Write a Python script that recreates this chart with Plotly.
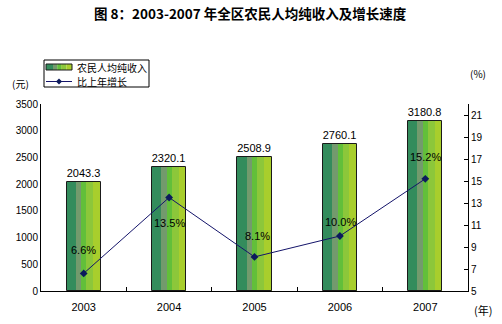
import plotly.graph_objects as go

years = ["2003", "2004", "2005", "2006", "2007"]
income = [2043.3, 2320.1, 2508.9, 2760.1, 3180.8]
growth = [6.6, 13.5, 8.1, 10.0, 15.2]
growth_labels = ["6.6%", "13.5%", "8.1%", "10.0%", "15.2%"]
label_shift = [23, -25, 21, 14, 22]
label_xshift = [0, 0, 3, 1, 0]

W, H = 502, 324
L, R, T, B = 41, 468, 104, 291

CJK = "Noto Sans CJK SC"
LAT = "Liberation Sans, Arial, sans-serif"

BW = 0.40
stripes = [(0.00, 0.27, "#338c5c"), (0.27, 0.43, "#739a6d"), (0.43, 0.58, "#62bf3a"),
           (0.58, 0.78, "#8cc73a"), (0.78, 1.00, "#a8ce2c")]

fig = go.Figure()
for s, e, c in stripes:
    fig.add_trace(go.Bar(x=years, y=income, width=(e - s) * BW, offset=-BW / 2 + s * BW,
                         marker=dict(color=c, line=dict(width=0)), showlegend=False,
                         hoverinfo="skip"))
fig.add_trace(go.Bar(x=years, y=income, width=BW, offset=-BW / 2,
                     marker=dict(color="rgba(0,0,0,0)", line=dict(color="#1a1a1a", width=1)),
                     text=[f"{v:.1f}" for v in income], textposition="outside",
                     textfont=dict(family=LAT, size=11, color="#000"),
                     cliponaxis=False, showlegend=False))
fig.add_trace(go.Scatter(x=years, y=growth, yaxis="y2", mode="lines+markers",
                         line=dict(color="#14146a", width=1),
                         marker=dict(symbol="diamond", size=6, color="#0c1a5c"),
                         showlegend=False))

for i, (y, t, sh, xs) in enumerate(zip(growth, growth_labels, label_shift, label_xshift)):
    fig.add_annotation(xref="x", yref="y2", x=i, y=y, text=t, showarrow=False,
                       yshift=sh, xshift=xs, xanchor="center", yanchor="middle",
                       font=dict(family=LAT, size=11, color="#000"))

def px(xp):
    return (xp - L) / (R - L)

def py(yp):
    return (B - yp) / (B - T)

shapes = []
shapes.append(dict(type="rect", xref="paper", yref="paper", x0=px(44), x1=px(149), y0=py(60), y1=py(87),
                   line=dict(color="#000", width=1), fillcolor="white"))
sx0, sx1 = 46, 72
for s, e, c in stripes:
    shapes.append(dict(type="rect", xref="paper", yref="paper", x0=px(sx0 + s * (sx1 - sx0)),
                       x1=px(sx0 + e * (sx1 - sx0)), y0=py(64), y1=py(70),
                       line=dict(width=0), fillcolor=c))
shapes.append(dict(type="rect", xref="paper", yref="paper", x0=px(sx0), x1=px(sx1), y0=py(64), y1=py(70),
                   line=dict(color="#1a1a1a", width=1)))
shapes.append(dict(type="line", xref="paper", yref="paper", x0=px(46), x1=px(72), y0=py(81.5), y1=py(81.5),
                   line=dict(color="#14146a", width=1)))
cx, cy = px(59), py(81.5)
dx, dy = 3 / (R - L), 3 / (B - T)
shapes.append(dict(type="path", xref="paper", yref="paper",
                   path=f"M {cx-dx},{cy} L {cx},{cy+dy} L {cx+dx},{cy} L {cx},{cy-dy} Z",
                   fillcolor="#0c1a5c", line=dict(color="#0c1a5c", width=0)))
fig.update_layout(shapes=shapes)

def paper_text(text, xp, yp, size, family=CJK, xanchor="center"):
    fig.add_annotation(xref="paper", yref="paper", x=px(xp), y=py(yp), text=text, showarrow=False,
                       xanchor=xanchor, yanchor="middle",
                       font=dict(family=family, size=size, color="#000"))

paper_text("农民人均纯收入", 75, 67, 10, xanchor="left")
paper_text("比上年增长", 75, 81.5, 10, xanchor="left")
paper_text("(元)", 20, 83, 10)
paper_text("(%)", 478, 73, 10)
paper_text("(年)", 483, 310, 11)
paper_text("<b>图 8：2003-2007 年全区农民人均纯收入及增长速度</b>", 250, 13, 13.5)

fig.update_layout(
    width=W, height=H,
    margin=dict(l=L, r=W - R, t=T, b=H - B),
    paper_bgcolor="white", plot_bgcolor="white",
    barmode="overlay", bargap=0,
    xaxis=dict(type="category", showline=True, linecolor="#000", linewidth=1,
               ticks="inside", ticklen=4, tickcolor="#000", tickson="boundaries",
               ticklabelstandoff=6,
               tickfont=dict(family=LAT, size=11, color="#000"), showgrid=False, zeroline=False,
               range=[-0.5, 4.5]),
    yaxis=dict(range=[0, 3500], dtick=500, showline=True, linecolor="#000", linewidth=1,
               ticks="", showgrid=False, zeroline=False,
               tickfont=dict(family=LAT, size=10, color="#000")),
    yaxis2=dict(range=[5, 22], overlaying="y", side="right", tickvals=[5, 7, 9, 11, 13, 15, 17, 19, 21],
                showline=True, linecolor="#000", linewidth=1, ticks="inside", ticklen=4,
                tickcolor="#000", showgrid=False, zeroline=False,
                tickfont=dict(family=LAT, size=10, color="#000")),
    showlegend=False,
)

fig.write_html("out.html")
